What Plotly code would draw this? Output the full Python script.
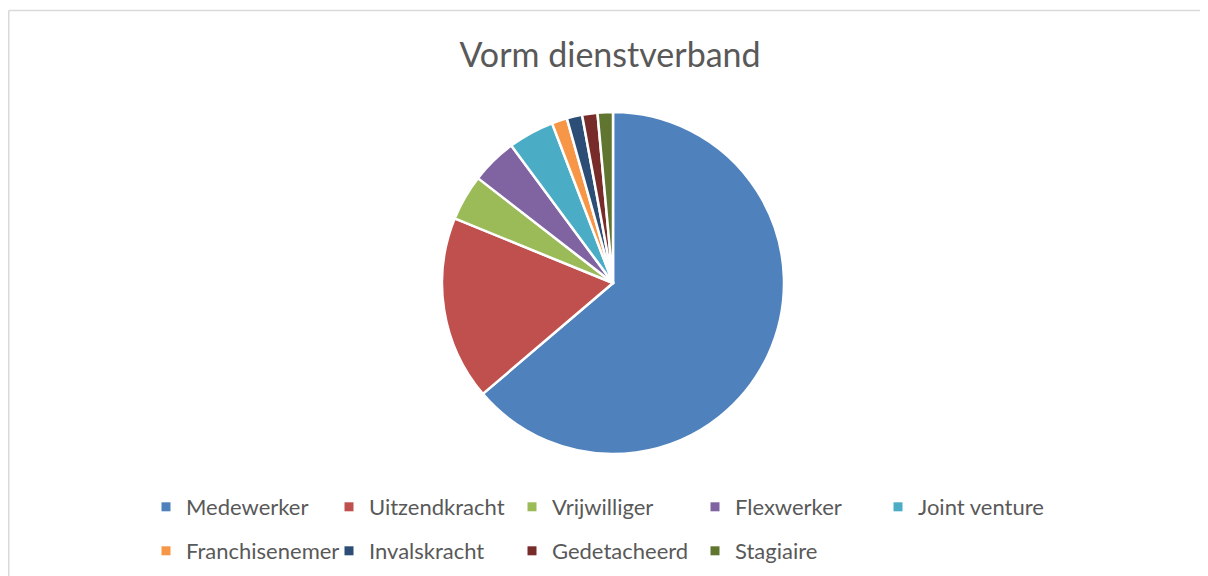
import plotly.graph_objects as go

categories = ["Medewerker", "Uitzendkracht", "Vrijwilliger", "Flexwerker", "Joint venture",
              "Franchisenemer", "Invalskracht", "Gedetacheerd", "Stagiaire"]
values = [44, 12, 3, 3, 3, 1, 1, 1, 1]
colors = ["#4F81BD", "#C0504D", "#9BBB59", "#8064A2", "#4BACC6",
          "#F79646", "#2C4D75", "#772C2A", "#5F7530"]

W, H = 1200, 568
cx, cy, r = 605, 275, 171

fig = go.Figure()
fig.add_trace(go.Pie(
    labels=categories, values=values, sort=False, direction="clockwise", rotation=0,
    marker=dict(colors=colors, line=dict(color="white", width=2.5)),
    textinfo="none", hoverinfo="label+value+percent", showlegend=False,
    domain=dict(x=[(cx - r) / W, (cx + r) / W], y=[(H - cy - r) / H, (H - cy + r) / H]),
))

# legend entries (two rows, as in the reference)
for i, (lab, col) in enumerate(zip(categories, colors)):
    fig.add_trace(go.Scatter(
        x=[None], y=[None], mode="markers", name=lab,
        marker=dict(symbol="square", size=9, color=col),
        legend="legend" if i < 5 else "legend2", hoverinfo="skip",
    ))

leg_common = dict(orientation="h", xanchor="left", yanchor="middle",
                  entrywidth=138, entrywidthmode="pixels",
                  font=dict(size=22, color="#595959"), bgcolor="rgba(0,0,0,0)",
                  traceorder="normal")

fig.update_layout(
    width=W, height=H,
    margin=dict(l=0, r=0, t=0, b=0),
    paper_bgcolor="white", plot_bgcolor="white",
    font=dict(family="Lato, Open Sans, sans-serif", color="#595959"),
    title=dict(text="Vorm dienstverband", x=602 / W, xanchor="center", y=1 - 47 / H, yanchor="middle",
               font=dict(size=34, color="#595959")),
    showlegend=True,
    xaxis=dict(visible=False), yaxis=dict(visible=False),
    legend=dict(x=138 / W, y=1 - 499 / H, **leg_common),
    legend2=dict(x=138 / W, y=1 - 543 / H, **leg_common),
    shapes=[
        dict(type="line", xref="paper", yref="paper", x0=0.75 / W, x1=1.0, y0=1 - 2.5 / H, y1=1 - 2.5 / H,
             line=dict(color="#D9D9D9", width=1.5)),
        dict(type="line", xref="paper", yref="paper", x0=0.75 / W, x1=0.75 / W, y0=0, y1=1 - 2.5 / H,
             line=dict(color="#D9D9D9", width=1.5)),
    ],
)

fig.write_html("out.html")
